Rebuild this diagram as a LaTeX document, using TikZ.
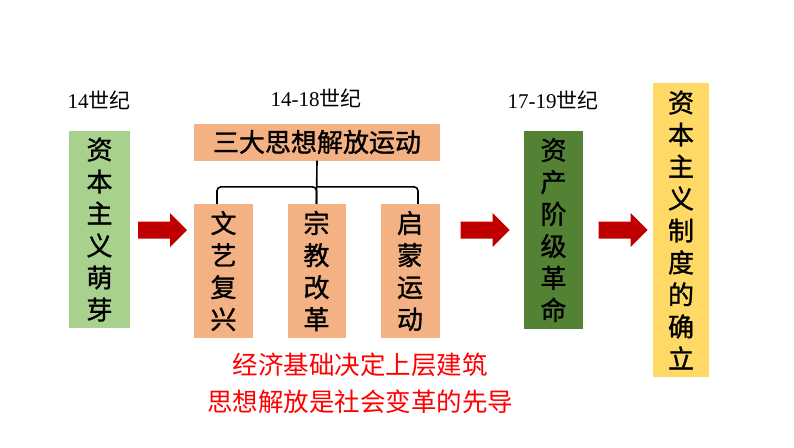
\documentclass[tikz,border=0pt]{standalone}
\usepackage{fontspec}
\setmainfont{Liberation Serif}
\newfontfamily\cjk{Noto Sans CJK SC}
\newfontfamily\cjkbold{Noto Sans CJK SC}[FakeBold=1.2]
\definecolor{lightgreen}{HTML}{A9D18E}
\definecolor{darkgreen}{HTML}{548235}
\definecolor{peach}{HTML}{F4B183}
\definecolor{gold}{HTML}{FFD966}
\definecolor{darkred}{HTML}{C00000}

\begin{document}
\begin{tikzpicture}[x=1pt,y=-1pt,
    box/.style={inner sep=0pt, align=center, font=\cjkbold\fontsize{26}{32}\selectfont},
    era/.style={inner sep=0pt, font=\fontsize{21}{21}\selectfont},
    redarrow/.pic={\fill[darkred] (-24.5,-8.5) -- (7.5,-8.5) -- (7.5,-17) -- (24.5,0)
      -- (7.5,17) -- (7.5,8.5) -- (-24.5,8.5) -- cycle;}]
  \useasboundingbox (0,0) rectangle (794,447);
  % headers
  \node[era] (T1) at (99,100) {14{\cjk 世纪}};
  \node[era] (T2) at (316,98) {14-18{\cjk 世纪}};
  \node[era] (T3) at (553,100) {17-19{\cjk 世纪}};
  % boxes
  \node[box, fill=lightgreen, minimum width=61pt, minimum height=197pt] (sprout) at (99.5,229.5) {资\\本\\主\\义\\萌\\芽};
  \node[box, fill=peach, minimum width=246pt, minimum height=37pt] (thought) at (317,142) {三大思想解放运动};
  \node[box, fill=peach, minimum width=59pt, minimum height=134pt] (ren) at (223.5,271) {文\\艺\\复\\兴};
  \node[box, fill=peach, minimum width=58pt, minimum height=134pt] (reform) at (316.5,271) {宗\\教\\改\\革};
  \node[box, fill=peach, minimum width=59pt, minimum height=134pt] (enlight) at (410,271) {启\\蒙\\运\\动};
  \node[box, fill=darkgreen, minimum width=59pt, minimum height=198pt] (revol) at (553.5,230) {资\\产\\阶\\级\\革\\命};
  \node[box, fill=gold, minimum width=56pt, minimum height=294pt] (system) at (681,230) {资\\本\\主\\义\\制\\度\\的\\确\\立};
  % brace
  \draw[line width=1.6pt, rounded corners=4pt] ([xshift=-6.5pt]ren.north) -- ++(0,-17) -| (reform.north) ++(0,-17) -| ([xshift=8pt]enlight.north);
  \draw[line width=1.6pt] (thought.south) -- (reform.north);
  % arrows
  \coordinate (a1) at (162.5,230);
  \coordinate (a2) at (485,230);
  \coordinate (a3) at (623,230);
  \pic at (a1) {redarrow};
  \pic at (a2) {redarrow};
  \pic at (a3) {redarrow};
  % conclusion
  \node[align=center, text=red, inner sep=0pt, font=\cjk\fontsize{25.5}{37}\selectfont] (note) at (360,383.5) {经济基础决定上层建筑\\思想解放是社会变革的先导};
\end{tikzpicture}
\end{document}
